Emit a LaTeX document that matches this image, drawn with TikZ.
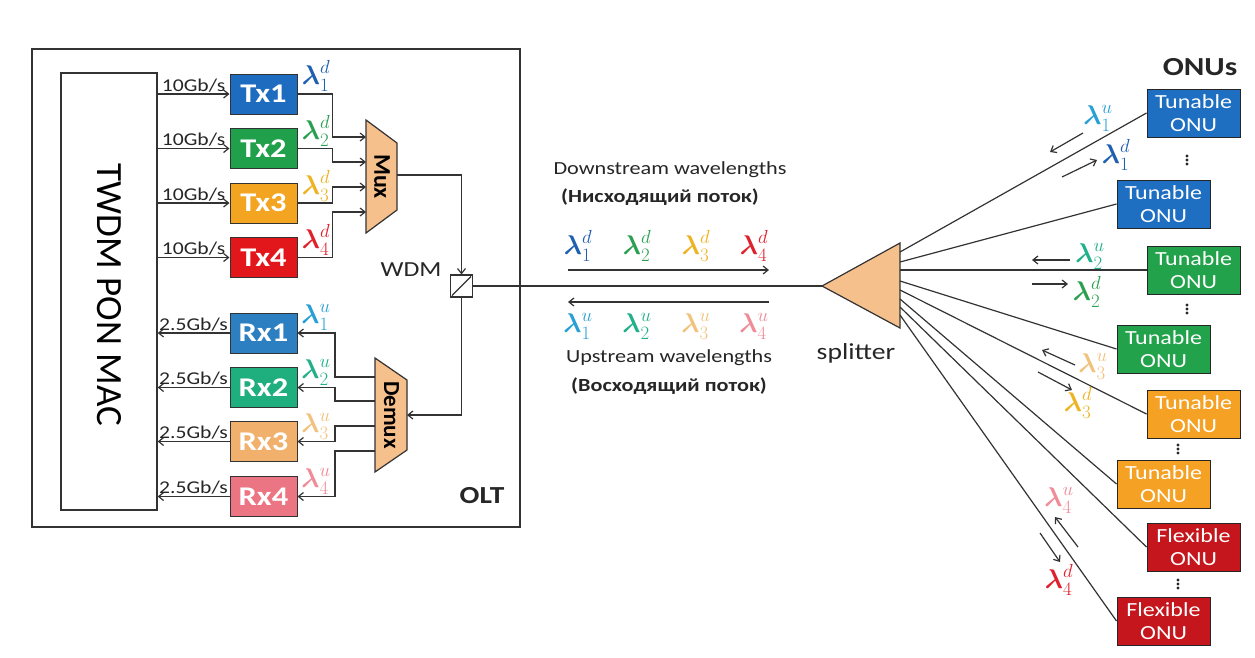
\documentclass[tikz,border=0pt]{standalone}
\usepackage{fix-cm}
\usepackage{amsmath}
\usepackage{fontspec}
\setmainfont{Carlito}[FakeStretch=1.2]
\newfontfamily\rotfont{Carlito}
\usetikzlibrary{arrows.meta}
\definecolor{lc}{HTML}{333333}
\definecolor{peach}{HTML}{F6C08D}
\definecolor{txa}{HTML}{1D6CC0}
\definecolor{txb}{HTML}{21A04B}
\definecolor{txc}{HTML}{F3A420}
\definecolor{txd}{HTML}{E2171C}
\definecolor{rxa}{HTML}{2C80C2}
\definecolor{rxb}{HTML}{1FAE7E}
\definecolor{rxc}{HTML}{F1B16C}
\definecolor{rxd}{HTML}{EC7584}
\definecolor{onub}{HTML}{1E6EC2}
\definecolor{onug}{HTML}{22A24A}
\definecolor{onuo}{HTML}{F4A124}
\definecolor{onur}{HTML}{C4161C}
\definecolor{lda}{HTML}{1F5FAF}
\definecolor{ldb}{HTML}{2A9F50}
\definecolor{ldc}{HTML}{EDB320}
\definecolor{ldd}{HTML}{E0202A}
\definecolor{lua}{HTML}{28A0D6}
\definecolor{lub}{HTML}{22B08A}
\definecolor{luc}{HTML}{F2C27C}
\definecolor{lud}{HTML}{EF8C98}
\newcommand{\mylam}[2]{$\boldsymbol{\lambda}^{#1}_{#2}$}
\tikzset{
  line/.style={draw=lc, line width=1.2pt},
  arr/.style={line, -{Straight Barb[length=5pt,width=8pt]}},
  trx/.style={draw=black!80, line width=1pt, minimum width=67, minimum height=40, inner sep=0, text=white, font=\bfseries\fontsize{27}{30}\selectfont},
  onu/.style={draw=black!85, line width=1pt, minimum width=93, minimum height=48, inner sep=0, text=white, align=center, font=\fontsize{20}{23}\selectfont},
  rate/.style={midway, above, inner sep=1.5pt, text=black!85, font=\fontsize{18}{19}\selectfont},
  lam/.style={inner sep=0, font=\fontsize{27}{29}\selectfont},
  plain/.style={inner sep=0, text=black!85},
  dot/.style={fill=black!85},
}
\begin{document}
\begin{tikzpicture}[x=1pt,y=-1pt]
\useasboundingbox[fill=white] (0,0) rectangle (1255,657);

% OLT frame and MAC
\node[draw=lc, line width=1.3pt, minimum width=488, minimum height=478, inner sep=0] (olt) at (276,288) {};
\node[draw=lc, line width=1.3pt, minimum width=96, minimum height=437, inner sep=0] (mac) at (109,291.5) {};
\node[inner sep=0, rotate=-90, font=\rotfont\fontsize{37}{40}\selectfont] (mactext) at (109,295) {TWDM PON MAC};
\node[plain, font=\bfseries\fontsize{24.5}{27}\selectfont] (oltl) at (482,496) {OLT};

% Tx / Rx boxes
\node[trx, fill=txa] (tx1) at (263.5,94) {Tx1};
\node[trx, fill=txb] (tx2) at (263.5,148.5) {Tx2};
\node[trx, fill=txc] (tx3) at (263.5,203) {Tx3};
\node[trx, fill=txd] (tx4) at (263.5,257.5) {Tx4};
\node[trx, fill=rxa] (rx1) at (263.5,333) {Rx1};
\node[trx, fill=rxb] (rx2) at (263.5,387.5) {Rx2};
\node[trx, fill=rxc] (rx3) at (263.5,441.5) {Rx3};
\node[trx, fill=rxd] (rx4) at (263.5,496.5) {Rx4};

% MAC <-> Tx/Rx
\foreach \t in {tx1,tx2,tx3,tx4}
  \draw[arr] (mac.east |- \t.west) -- (\t.west) node[rate] {10Gb/s};
\foreach \r in {rx1,rx2,rx3,rx4}
  \draw[arr] (\r.west) -- (mac.east |- \r.west) node[rate] {2.5Gb/s};

% lambda labels at Tx/Rx
\node[lam, text=lda] (ltx1) at (316,76) {\mylam{d}{1}};
\node[lam, text=ldb] (ltx2) at (316,131) {\mylam{d}{2}};
\node[lam, text=ldc] (ltx3) at (316,186) {\mylam{d}{3}};
\node[lam, text=ldd] (ltx4) at (316,240) {\mylam{d}{4}};
\node[lam, text=lua] (lrx1) at (316,317) {\mylam{u}{1}};
\node[lam, text=lub] (lrx2) at (316,372) {\mylam{u}{2}};
\node[lam, text=luc] (lrx3) at (316,426) {\mylam{u}{3}};
\node[lam, text=lud] (lrx4) at (316,481) {\mylam{u}{4}};

% Mux
\draw[line, fill=peach] (366,120) -- (397,143) -- (397,210) -- (366,233) -- cycle;
\node[inner sep=0, rotate=-90, font=\rotfont\bfseries\fontsize{24}{26}\selectfont] (muxl) at (382,176.5) {Mux};
\coordinate (m1) at (366,137);
\coordinate (m2) at (366,162);
\coordinate (m3) at (366,187);
\coordinate (m4) at (366,212);
\coordinate (mo) at (397,175);
\draw[arr] (tx1.east) -- ++(35,0) |- (m1);
\draw[arr] (tx2.east) -- ++(35,0) |- (m2);
\draw[arr] (tx3.east) -- ++(35,0) |- (m3);
\draw[arr] (tx4.east) -- ++(35,0) |- (m4);

% Demux
\draw[line, fill=peach] (375,358) -- (407,380) -- (407,450) -- (375,472) -- cycle;
\node[inner sep=0, rotate=-90, font=\rotfont\bfseries\fontsize{23}{25}\selectfont] (demuxl) at (391.5,415) {Demux};
\coordinate (d1) at (375,377);
\coordinate (d2) at (375,401);
\coordinate (d3) at (375,426);
\coordinate (d4) at (375,451);
\coordinate (di) at (407,415);
\draw[arr] (d1) -- ++(-40,0) |- (rx1.east);
\draw[arr] (d2) -- ++(-40,0) |- (rx2.east);
\draw[arr] (d3) -- ++(-40,0) |- (rx3.east);
\draw[arr] (d4) -- ++(-40,0) |- (rx4.east);

% WDM
\node[draw=lc, line width=1.1pt, minimum size=22, inner sep=0] (wdm) at (461.5,286) {};
\draw[line] ([shift={(2,-2)}]wdm.south west) -- ([shift={(-2,2)}]wdm.north east);
\node[plain, font=\fontsize{21.5}{23}\selectfont] (wdml) at (411,270) {WDM};
\draw[arr] (mo) -| (wdm.north);
\draw[arr] (wdm.south) |- (di);

% splitter
\coordinate (sptip) at (822,286);
\draw[line, fill=peach] (sptip) -- (900,243) -- (900,328) -- cycle;
\node[plain, font=\fontsize{23}{25}\selectfont] (splitl) at (856,353) {splitter};
\draw[line] (wdm.east) -- (sptip);

% centre wavelengths
\node[plain, font=\fontsize{18.5}{20}\selectfont] (dsl) at (670,170) {Downstream wavelengths};
\node[plain, font=\bfseries\fontsize{18.5}{20}\selectfont] (dsr) at (660,197) {(Нисходящий поток)};
\node[lam, text=lda] (cd1) at (578,246) {\mylam{d}{1}};
\node[lam, text=ldb] (cd2) at (637,246) {\mylam{d}{2}};
\node[lam, text=ldc] (cd3) at (696,246) {\mylam{d}{3}};
\node[lam, text=ldd] (cd4) at (754,246) {\mylam{d}{4}};
\coordinate (da) at (568,270);
\coordinate (db) at (769,270);
\draw[arr] (da) -- (db);
\coordinate (ua) at (769,302);
\coordinate (ub) at (568,302);
\draw[arr] (ua) -- (ub);
\node[lam, text=lua] (cu1) at (578,326) {\mylam{u}{1}};
\node[lam, text=lub] (cu2) at (637,326) {\mylam{u}{2}};
\node[lam, text=luc] (cu3) at (696,326) {\mylam{u}{3}};
\node[lam, text=lud] (cu4) at (754,326) {\mylam{u}{4}};
\node[plain, font=\fontsize{18.5}{20}\selectfont] (usl) at (669,358) {Upstream wavelengths};
\node[plain, font=\bfseries\fontsize{18.5}{20}\selectfont] (usr) at (669,386) {(Восходящий поток)};

% ONUs
\node[plain, font=\bfseries\fontsize{26}{28}\selectfont] (onus) at (1200,67) {ONUs};
\node[onu, fill=onub] (o1) at (1193.5,113) {Tunable\\ONU};
\node[onu, fill=onub] (o2) at (1163.5,204) {Tunable\\ONU};
\node[onu, fill=onug] (o3) at (1193.5,270) {Tunable\\ONU};
\node[onu, fill=onug] (o4) at (1163.5,349) {Tunable\\ONU};
\node[onu, fill=onuo] (o5) at (1193.5,414) {Tunable\\ONU};
\node[onu, fill=onuo] (o6) at (1163.5,484) {Tunable\\ONU};
\node[onu, fill=onur] (o7) at (1193.5,547) {Flexible\\ONU};
\node[onu, fill=onur] (o8) at (1163.5,621) {Flexible\\ONU};
\coordinate (v1) at (1187,160);
\coordinate (v2) at (1187,309);
\coordinate (v3) at (1178,449);
\coordinate (v4) at (1178,584);
\foreach \v in {v1,v2,v3,v4}
  \foreach \dy in {-4,0,4}
    \fill[dot] ([yshift=\dy pt]\v) circle (1.6pt);

% splitter to ONUs
\coordinate (s1) at (900,252);
\coordinate (s2) at (900,262);
\coordinate (s3) at (900,270);
\coordinate (s4) at (900,281);
\coordinate (s5) at (900,290);
\coordinate (s6) at (900,299);
\coordinate (s7) at (900,307);
\coordinate (s8) at (900,315);
\draw[line] (s1) -- (o1.west);
\draw[line] (s2) -- (o2.west);
\draw[line] (s3) -- (o3.west);
\draw[line] (s4) -- (o4.west);
\draw[line] (s5) -- (o5.west);
\draw[line] (s6) -- (o6.west);
\draw[line] (s7) -- (o7.west);
\draw[line] (s8) -- (o8.west);

% ONU side wavelengths
\node[lam, text=lua] (n1u) at (1098,118) {\mylam{u}{1}};
\node[lam, text=lda] (n1d) at (1116,155) {\mylam{d}{1}};
\node[lam, text=lub] (n2u) at (1090,256) {\mylam{u}{2}};
\node[lam, text=ldb] (n2d) at (1087,292) {\mylam{d}{2}};
\node[lam, text=luc] (n3u) at (1093,366) {\mylam{u}{3}};
\node[lam, text=ldc] (n3d) at (1078,403) {\mylam{d}{3}};
\node[lam, text=lud] (n4u) at (1059,500) {\mylam{u}{4}};
\node[lam, text=ldd] (n4d) at (1059,580) {\mylam{d}{4}};
\coordinate (a1) at (1083,133); \coordinate (a1e) at (1050,152);
\coordinate (b1) at (1062,177); \coordinate (b1e) at (1097,160);
\coordinate (a2) at (1070,260); \coordinate (a2e) at (1032,260);
\coordinate (b2) at (1032,284); \coordinate (b2e) at (1068,284);
\coordinate (a3) at (1075,365); \coordinate (a3e) at (1042,350);
\coordinate (b3) at (1038,372); \coordinate (b3e) at (1072,390);
\coordinate (a4) at (1078,547); \coordinate (a4e) at (1055,517);
\coordinate (b4) at (1040,533); \coordinate (b4e) at (1060,562);
\draw[arr] (a1) -- (a1e);
\draw[arr] (b1) -- (b1e);
\draw[arr] (a2) -- (a2e);
\draw[arr] (b2) -- (b2e);
\draw[arr] (a3) -- (a3e);
\draw[arr] (b3) -- (b3e);
\draw[arr] (a4) -- (a4e);
\draw[arr] (b4) -- (b4e);
\end{tikzpicture}
\end{document}
